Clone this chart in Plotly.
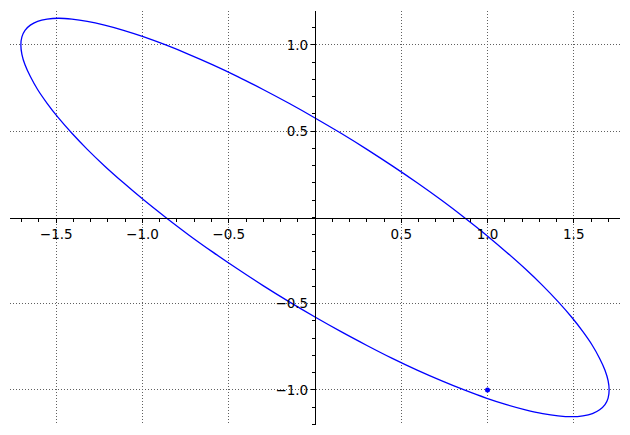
import plotly.graph_objects as go

# Curve points (closed ellipse)
curve_x = [1.705, 1.699, 1.681, 1.650, 1.608, 1.553, 1.487, 1.409, 1.320, 1.220, 1.110, 0.992,
           0.865, 0.732, 0.592, 0.448, 0.301, 0.151, 0.000, -0.151, -0.301, -0.448, -0.592, -0.732,
           -0.865, -0.992, -1.110, -1.220, -1.320, -1.409, -1.487, -1.553, -1.608, -1.650, -1.681, -1.699,
           -1.705, -1.699, -1.681, -1.650, -1.608, -1.553, -1.487, -1.409, -1.320, -1.220, -1.110, -0.992,
           -0.865, -0.732, -0.592, -0.448, -0.301, -0.151, 0.000, 0.151, 0.301, 0.448, 0.592, 0.732,
           0.865, 0.992, 1.110, 1.220, 1.320, 1.409, 1.487, 1.553, 1.608, 1.650, 1.681, 1.699, 1.705]
curve_y = [-1.000, -0.946, -0.885, -0.817, -0.742, -0.662, -0.577, -0.488, -0.395, -0.299, -0.201, -0.101,
           0.000, 0.101, 0.201, 0.299, 0.395, 0.488, 0.577, 0.662, 0.742, 0.817, 0.885, 0.946,
           1.000, 1.047, 1.085, 1.115, 1.137, 1.150, 1.155, 1.150, 1.137, 1.115, 1.085, 1.047,
           1.000, 0.946, 0.885, 0.817, 0.742, 0.662, 0.577, 0.488, 0.395, 0.299, 0.201, 0.101,
           0.000, -0.101, -0.201, -0.299, -0.395, -0.488, -0.577, -0.662, -0.742, -0.817, -0.885, -0.946,
           -1.000, -1.047, -1.085, -1.115, -1.137, -1.150, -1.155, -1.150, -1.137, -1.115, -1.085, -1.047, -1.000]

point_x = [1.0]
point_y = [-1.0]

x_ticks = [-1.5, -1.0, -0.5, 0.5, 1.0, 1.5]
x_tick_labels = ["\u22121.5", "\u22121.0", "\u22120.5", "0.5", "1.0", "1.5"]
y_ticks = [-1.0, -0.5, 0.5, 1.0]
y_tick_labels = ["\u22121.0", "\u22120.5", "0.5", "1.0"]

fig = go.Figure()
fig.add_trace(go.Scatter(x=curve_x, y=curve_y, mode="lines",
                         line=dict(color="#0000ff", width=1.3, shape="spline", smoothing=1.0),
                         hoverinfo="skip"))
fig.add_trace(go.Scatter(x=point_x, y=point_y, mode="markers",
                         marker=dict(color="#0000ff", size=5), hoverinfo="skip"))

font = dict(family="DejaVu Sans", size=13.5, color="black")

common = dict(anchor="free", position=0.5, domain=[0, 1], automargin=False,
              showline=True, linecolor="black", linewidth=1.2,
              ticks="outside", ticklen=4, tickwidth=1, tickcolor="black",
              showgrid=True, gridcolor="#606060", gridwidth=0.8, griddash="1px,2px",
              zeroline=False, tickfont=font,
              minor=dict(dtick=0.1, tick0=0, ticks="outside", ticklen=2.5, tickwidth=0.8,
                         tickcolor="black", showgrid=False))

fig.update_layout(
    width=630, height=435,
    margin=dict(l=2, r=18, t=3, b=18, autoexpand=False),
    paper_bgcolor="white", plot_bgcolor="white",
    showlegend=False,
    font=font,
    xaxis=dict(range=[-1.768, 1.768], tickvals=x_ticks, ticktext=x_tick_labels, **common),
    yaxis=dict(range=[-1.203, 1.197], tickvals=y_ticks, ticktext=y_tick_labels, **common),
)

fig.write_html("out.html")
